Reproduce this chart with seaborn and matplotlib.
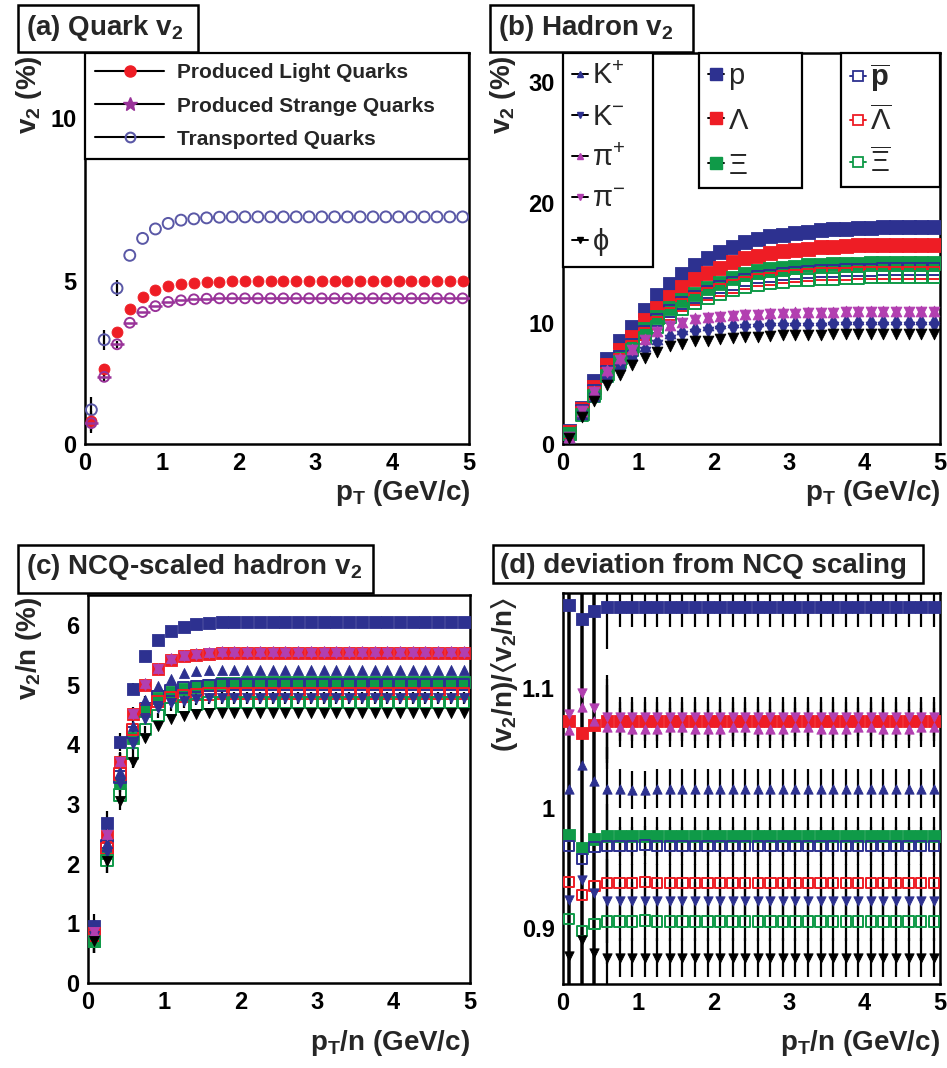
import matplotlib
matplotlib.use("Agg")
import matplotlib.pyplot as plt
from matplotlib.lines import Line2D
from matplotlib.patches import Rectangle
from matplotlib.ticker import MultipleLocator, FuncFormatter
import seaborn as sns

# ---------------- data ----------------
X = [0.083, 0.25, 0.417, 0.583, 0.75, 0.917, 1.083, 1.25, 1.417, 1.583,
     1.75, 1.917, 2.083, 2.25, 2.417, 2.583, 2.75, 2.917, 3.083, 3.25,
     3.417, 3.583, 3.75, 3.917, 4.083, 4.25, 4.417, 4.583, 4.75, 4.917]

# (a) quark v2 (%)
q_light = [0.71, 2.30, 3.44, 4.15, 4.51, 4.72, 4.85, 4.92, 4.95, 4.97,
           4.98, 4.99, 5.00, 5.00, 5.00, 5.00, 5.00, 5.00, 5.00, 5.00,
           5.00, 5.00, 5.00, 5.00, 5.00, 5.00, 5.00, 5.00, 5.00, 5.00]
q_strange = [0.64, 2.06, 3.06, 3.72, 4.05, 4.23, 4.36, 4.41, 4.44, 4.46,
             4.47, 4.47, 4.47, 4.47, 4.47, 4.47, 4.47, 4.47, 4.47, 4.47,
             4.47, 4.47, 4.47, 4.47, 4.47, 4.47, 4.47, 4.47, 4.47, 4.47]
q_transp = [1.05, 3.20, 4.78, 5.79, 6.31, 6.60, 6.77, 6.87, 6.91, 6.94,
            6.96, 6.97, 6.97, 6.97, 6.97, 6.97, 6.97, 6.97, 6.97, 6.97,
            6.97, 6.97, 6.97, 6.97, 6.97, 6.97, 6.97, 6.97, 6.97, 6.97]
e_quark_light = [0.30, 0.15, 0.10, 0.0, 0.0, 0.0, 0.0, 0.0, 0.0, 0.0,
                 0.0, 0.0, 0.0, 0.0, 0.0, 0.0, 0.0, 0.0, 0.0, 0.0,
                 0.0, 0.0, 0.0, 0.0, 0.0, 0.0, 0.0, 0.0, 0.0, 0.0]
e_quark_transp = [0.40, 0.30, 0.25, 0.0, 0.0, 0.0, 0.0, 0.0, 0.0, 0.0,
                  0.0, 0.0, 0.0, 0.0, 0.0, 0.0, 0.0, 0.0, 0.0, 0.0,
                  0.0, 0.0, 0.0, 0.0, 0.0, 0.0, 0.0, 0.0, 0.0, 0.0]

# (b) hadron v2 (%)
v2_p = [1.05, 3.00, 5.20, 7.06, 8.50, 9.70, 11.07, 12.34, 13.28, 14.10,
        14.80, 15.45, 15.93, 16.36, 16.70, 17.00, 17.20, 17.35, 17.50, 17.60,
        17.70, 17.80, 17.85, 17.90, 17.90, 17.95, 18.00, 18.00, 18.00, 18.00]
v2_lam = [1.00, 2.90, 4.70, 6.55, 7.80, 8.87, 10.30, 11.27, 12.20, 13.00,
          13.67, 14.20, 14.60, 15.10, 15.40, 15.60, 15.85, 16.00, 16.10, 16.20,
          16.30, 16.35, 16.40, 16.45, 16.45, 16.50, 16.50, 16.50, 16.50, 16.50]
v2_xi = [0.95, 2.60, 4.30, 5.90, 7.20, 8.20, 9.50, 10.50, 11.30, 11.90,
         12.45, 12.95, 13.35, 13.75, 14.05, 14.30, 14.50, 14.60, 14.70, 14.80,
         14.85, 14.90, 14.95, 14.95, 15.00, 15.00, 15.00, 15.00, 15.00, 15.00]
v2_pbar = [0.95, 2.70, 4.40, 6.00, 7.20, 8.20, 9.30, 10.30, 11.00, 11.70,
           12.20, 12.60, 13.00, 13.30, 13.60, 13.80, 13.95, 14.05, 14.15, 14.25,
           14.30, 14.35, 14.40, 14.45, 14.45, 14.50, 14.50, 14.50, 14.50, 14.50]
v2_lbar = [0.90, 2.60, 4.20, 5.80, 7.00, 8.00, 9.10, 10.00, 10.80, 11.50,
           12.00, 12.40, 12.75, 13.05, 13.35, 13.55, 13.70, 13.80, 13.90, 14.00,
           14.05, 14.10, 14.10, 14.15, 14.20, 14.20, 14.20, 14.20, 14.20, 14.20]
v2_xbar = [0.85, 2.40, 4.00, 5.60, 6.80, 7.80, 8.80, 9.70, 10.50, 11.20,
           11.70, 12.10, 12.45, 12.75, 13.00, 13.20, 13.35, 13.45, 13.55, 13.60,
           13.65, 13.70, 13.75, 13.75, 13.80, 13.80, 13.80, 13.80, 13.80, 13.80]
v2_pip = [0.60, 2.75, 4.40, 6.10, 7.10, 7.90, 8.70, 9.35, 9.85, 10.15,
          10.40, 10.50, 10.60, 10.70, 10.75, 10.80, 10.85, 10.90, 10.90, 10.95,
          10.95, 10.95, 11.00, 11.00, 11.00, 11.00, 11.00, 11.00, 11.00, 11.00]
v2_pim = [0.60, 2.70, 4.35, 6.00, 7.00, 7.80, 8.60, 9.25, 9.75, 10.05,
          10.30, 10.40, 10.50, 10.60, 10.65, 10.70, 10.75, 10.80, 10.80, 10.85,
          10.85, 10.85, 10.90, 10.90, 10.90, 10.90, 10.90, 10.90, 10.90, 10.90]
v2_kp = [0.55, 2.50, 4.00, 5.60, 6.60, 7.40, 8.10, 8.70, 9.20, 9.50,
         9.75, 9.90, 10.00, 10.10, 10.15, 10.20, 10.25, 10.25, 10.30, 10.30,
         10.30, 10.35, 10.35, 10.35, 10.35, 10.35, 10.35, 10.35, 10.35, 10.35]
v2_km = [0.50, 2.35, 3.80, 5.30, 6.25, 7.00, 7.65, 8.20, 8.65, 8.95,
         9.15, 9.30, 9.40, 9.45, 9.50, 9.55, 9.60, 9.60, 9.65, 9.65,
         9.65, 9.70, 9.70, 9.70, 9.70, 9.70, 9.70, 9.70, 9.70, 9.70]
v2_phi = [0.50, 2.20, 3.60, 4.85, 5.70, 6.55, 7.10, 7.60, 8.10, 8.25,
          8.50, 8.55, 8.70, 8.80, 8.85, 8.90, 8.95, 9.00, 9.00, 9.05,
          9.05, 9.10, 9.10, 9.10, 9.10, 9.10, 9.10, 9.10, 9.10, 9.10]

# (c) NCQ-scaled v2/n (%)
n_p = [0.95, 2.68, 4.03, 4.92, 5.47, 5.75, 5.90, 5.97, 6.01, 6.03,
       6.04, 6.04, 6.04, 6.05, 6.05, 6.05, 6.05, 6.05, 6.05, 6.05,
       6.05, 6.05, 6.05, 6.05, 6.05, 6.05, 6.05, 6.05, 6.05, 6.05]
n_lam = [0.84, 2.46, 3.71, 4.51, 5.00, 5.26, 5.41, 5.47, 5.50, 5.51,
         5.52, 5.52, 5.52, 5.52, 5.52, 5.52, 5.52, 5.52, 5.52, 5.52,
         5.52, 5.52, 5.52, 5.52, 5.52, 5.52, 5.52, 5.52, 5.52, 5.52]
n_pip = [0.86, 2.50, 3.72, 4.52, 5.02, 5.28, 5.44, 5.50, 5.53, 5.55,
         5.56, 5.56, 5.56, 5.56, 5.56, 5.56, 5.56, 5.56, 5.56, 5.56,
         5.56, 5.56, 5.56, 5.56, 5.56, 5.56, 5.56, 5.56, 5.56, 5.56]
n_pim = [0.85, 2.48, 3.70, 4.50, 5.00, 5.26, 5.41, 5.47, 5.50, 5.52,
         5.53, 5.53, 5.53, 5.53, 5.53, 5.53, 5.53, 5.53, 5.53, 5.53,
         5.53, 5.53, 5.53, 5.53, 5.53, 5.53, 5.53, 5.53, 5.53, 5.53]
n_kp = [0.85, 2.34, 3.53, 4.30, 4.74, 4.97, 5.10, 5.19, 5.22, 5.24,
        5.25, 5.25, 5.25, 5.25, 5.25, 5.25, 5.25, 5.25, 5.25, 5.25,
        5.25, 5.25, 5.25, 5.25, 5.25, 5.25, 5.25, 5.25, 5.25, 5.25]
n_xi = [0.70, 2.18, 3.35, 4.10, 4.56, 4.77, 4.88, 4.92, 4.96, 5.00,
        5.02, 5.03, 5.04, 5.05, 5.05, 5.05, 5.05, 5.05, 5.05, 5.05,
        5.05, 5.05, 5.05, 5.05, 5.05, 5.05, 5.05, 5.05, 5.05, 5.05]
n_pbar = [0.80, 2.30, 3.45, 4.20, 4.60, 4.80, 4.90, 4.95, 4.97, 4.98,
          4.99, 5.00, 5.00, 5.00, 5.00, 5.00, 5.00, 5.00, 5.00, 5.00,
          5.00, 5.00, 5.00, 5.00, 5.00, 5.00, 5.00, 5.00, 5.00, 5.00]
n_lbar = [0.80, 2.25, 3.50, 4.25, 4.58, 4.71, 4.78, 4.81, 4.83, 4.84,
          4.85, 4.85, 4.85, 4.85, 4.85, 4.85, 4.85, 4.85, 4.85, 4.85,
          4.85, 4.85, 4.85, 4.85, 4.85, 4.85, 4.85, 4.85, 4.85, 4.85]
n_km = [0.78, 2.20, 3.35, 4.00, 4.42, 4.60, 4.69, 4.73, 4.75, 4.77,
        4.78, 4.78, 4.78, 4.78, 4.78, 4.78, 4.78, 4.78, 4.78, 4.78,
        4.78, 4.78, 4.78, 4.78, 4.78, 4.78, 4.78, 4.78, 4.78, 4.78]
n_xbar = [0.70, 2.05, 3.15, 3.85, 4.25, 4.48, 4.59, 4.64, 4.67, 4.69,
          4.70, 4.70, 4.70, 4.70, 4.70, 4.70, 4.70, 4.70, 4.70, 4.70,
          4.70, 4.70, 4.70, 4.70, 4.70, 4.70, 4.70, 4.70, 4.70, 4.70]
n_phi = [0.70, 2.05, 3.05, 3.70, 4.10, 4.30, 4.42, 4.47, 4.50, 4.52,
         4.53, 4.53, 4.53, 4.53, 4.53, 4.53, 4.53, 4.53, 4.53, 4.53,
         4.53, 4.53, 4.53, 4.53, 4.53, 4.53, 4.53, 4.53, 4.53, 4.53]
e_ncq = [0.20, 0.20, 0.15, 0.10, 0.06, 0.04, 0.03, 0.03, 0.02, 0.02,
         0.02, 0.02, 0.02, 0.02, 0.02, 0.02, 0.02, 0.02, 0.02, 0.02,
         0.02, 0.02, 0.02, 0.02, 0.02, 0.02, 0.02, 0.02, 0.02, 0.02]

# (d) deviation (v2/n)/<v2/n>
r_p = [1.169, 1.157, 1.164, 1.167, 1.167, 1.167, 1.167, 1.167, 1.167, 1.167,
       1.167, 1.167, 1.167, 1.167, 1.167, 1.167, 1.167, 1.167, 1.167, 1.167,
       1.167, 1.167, 1.167, 1.167, 1.167, 1.167, 1.167, 1.167, 1.167, 1.167]
r_lam = [1.072, 1.062, 1.069, 1.072, 1.072, 1.072, 1.072, 1.072, 1.072, 1.072,
         1.072, 1.072, 1.072, 1.072, 1.072, 1.072, 1.072, 1.072, 1.072, 1.072,
         1.072, 1.072, 1.072, 1.072, 1.072, 1.072, 1.072, 1.072, 1.072, 1.072]
r_pim = [1.078, 1.096, 1.083, 1.076, 1.076, 1.076, 1.076, 1.076, 1.076, 1.076,
         1.076, 1.076, 1.076, 1.076, 1.076, 1.076, 1.076, 1.076, 1.076, 1.076,
         1.076, 1.076, 1.076, 1.076, 1.076, 1.076, 1.076, 1.076, 1.076, 1.076]
r_pip = [1.065, 1.084, 1.072, 1.067, 1.067, 1.066, 1.066, 1.066, 1.067, 1.067,
         1.066, 1.066, 1.066, 1.067, 1.067, 1.066, 1.066, 1.066, 1.067, 1.067,
         1.066, 1.066, 1.066, 1.067, 1.067, 1.066, 1.066, 1.066, 1.067, 1.067]
r_kp = [1.016, 1.036, 1.022, 1.016, 1.016, 1.015, 1.015, 1.016, 1.016, 1.016,
        1.016, 1.016, 1.016, 1.016, 1.016, 1.016, 1.016, 1.016, 1.016, 1.016,
        1.016, 1.016, 1.016, 1.016, 1.016, 1.016, 1.016, 1.016, 1.016, 1.016]
r_xi = [0.977, 0.966, 0.974, 0.976, 0.976, 0.976, 0.976, 0.976, 0.976, 0.976,
        0.976, 0.976, 0.976, 0.976, 0.976, 0.976, 0.976, 0.976, 0.976, 0.976,
        0.976, 0.976, 0.976, 0.976, 0.976, 0.976, 0.976, 0.976, 0.976, 0.976]
r_pbar = [0.968, 0.957, 0.967, 0.968, 0.968, 0.968, 0.969, 0.968, 0.968, 0.968,
          0.968, 0.968, 0.968, 0.968, 0.968, 0.968, 0.968, 0.968, 0.968, 0.968,
          0.968, 0.968, 0.968, 0.968, 0.968, 0.968, 0.968, 0.968, 0.968, 0.968]
r_lbar = [0.938, 0.927, 0.935, 0.937, 0.937, 0.937, 0.938, 0.937, 0.937, 0.937,
          0.937, 0.937, 0.937, 0.937, 0.937, 0.937, 0.937, 0.937, 0.937, 0.937,
          0.937, 0.937, 0.937, 0.937, 0.937, 0.937, 0.937, 0.937, 0.937, 0.937]
r_km = [0.923, 0.940, 0.929, 0.922, 0.922, 0.922, 0.922, 0.922, 0.922, 0.922,
        0.922, 0.922, 0.922, 0.922, 0.922, 0.922, 0.922, 0.922, 0.922, 0.922,
        0.922, 0.922, 0.922, 0.922, 0.922, 0.922, 0.922, 0.922, 0.922, 0.922]
r_xbar = [0.907, 0.897, 0.903, 0.905, 0.905, 0.905, 0.906, 0.905, 0.905, 0.905,
          0.905, 0.905, 0.905, 0.905, 0.905, 0.905, 0.905, 0.905, 0.905, 0.905,
          0.905, 0.905, 0.905, 0.905, 0.905, 0.905, 0.905, 0.905, 0.905, 0.905]
r_phi = [0.876, 0.890, 0.879, 0.875, 0.875, 0.875, 0.875, 0.875, 0.875, 0.875,
         0.875, 0.875, 0.875, 0.875, 0.875, 0.875, 0.875, 0.875, 0.875, 0.875,
         0.875, 0.875, 0.875, 0.875, 0.875, 0.875, 0.875, 0.875, 0.875, 0.875]
e_dev = [0.5, 0.5, 0.5, 0.035, 0.016, 0.016, 0.016, 0.016, 0.016, 0.016,
         0.016, 0.016, 0.016, 0.016, 0.016, 0.016, 0.016, 0.016, 0.016, 0.016,
         0.016, 0.016, 0.016, 0.016, 0.016, 0.016, 0.016, 0.016, 0.016, 0.016]

quark_labels = ["Produced Light Quarks", "Produced Strange Quarks", "Transported Quarks"]
meson_labels = [r"K$^{+}$", r"K$^{-}$", r"$\pi^{+}$", r"$\pi^{-}$", r"$\phi$"]
baryon_labels = ["p", r"$\Lambda$", r"$\Xi$"]
anti_labels = [r"$\overline{\mathrm{p}}$", r"$\overline{\Lambda}$", r"$\overline{\Xi}$"]

# ---------------- style ----------------
sns.set_theme(style="white")
plt.rcParams["font.family"] = ["Liberation Sans", "DejaVu Sans"]
plt.rcParams["font.weight"] = "bold"
plt.rcParams["mathtext.fontset"] = "custom"
plt.rcParams["mathtext.rm"] = "Liberation Sans"
plt.rcParams["mathtext.it"] = "Liberation Sans:italic"
plt.rcParams["mathtext.bf"] = "Liberation Sans:bold"
plt.rcParams["mathtext.sf"] = "Liberation Sans"
plt.rcParams["mathtext.default"] = "regular"

BLUE = "#2d3190"
RED = "#ee1d25"
GREEN = "#0f9a48"
MAG = "#b23fb0"
PURPLE = "#993399"
LBLUE = "#5a58a6"

W, H = 947, 1068
fig = plt.figure(figsize=(W / 100, H / 100), dpi=100)


def px_axes(left, top, right, bottom):
    return fig.add_axes([left / W, 1 - bottom / H, (right - left) / W, (bottom - top) / H])


def fx(x):
    return x / W


def fy(y):
    return 1 - y / H


def series(ax, y, color, marker, filled=True, s=60, err=None, lw=1.4, z=3):
    if err is not None:
        ax.errorbar(X, y, yerr=err, fmt="none", ecolor="black", elinewidth=1.6,
                    capsize=0, zorder=z - 0.5)
    sns.scatterplot(x=X, y=y, ax=ax, marker=marker, s=s, color=color,
                    facecolors=(color if filled else "none"), edgecolor=color,
                    linewidth=(0.6 if filled else lw), zorder=z, legend=False)


def style_axes(ax, ylim, ymaj, ymin, fmt):
    ax.set_xlim(0, 5)
    ax.set_ylim(*ylim)
    ax.xaxis.set_major_locator(MultipleLocator(1))
    ax.xaxis.set_minor_locator(MultipleLocator(0.2))
    ax.yaxis.set_major_locator(MultipleLocator(ymaj))
    ax.yaxis.set_minor_locator(MultipleLocator(ymin))
    ax.yaxis.set_major_formatter(FuncFormatter(fmt))
    ax.xaxis.set_major_formatter(FuncFormatter(lambda v, p: f"{v:g}"))
    ax.tick_params(which="both", direction="in", top=False, right=False,
                   width=1.5, labelsize=17, colors="black")
    ax.tick_params(which="major", length=9, pad=6)
    ax.tick_params(which="minor", length=5)
    for sp in ax.spines.values():
        sp.set_linewidth(1.8)
        sp.set_color("black")
    ax.set_xlabel("")
    ax.set_ylabel("")


def title_box(x0, y0, x1, y1, text, tx, ty):
    fig.patches.append(Rectangle((fx(x0), fy(y1)), (x1 - x0) / W, (y1 - y0) / H,
                                 transform=fig.transFigure, facecolor="white",
                                 edgecolor="black", linewidth=1.8, zorder=5))
    fig.text(fx(tx), fy(ty), text, fontsize=20, fontweight="bold",
             ha="left", va="baseline", zorder=6)


# ---------------- (a) ----------------
axa = px_axes(85, 53, 469, 444)
series(axa, q_transp, LBLUE, "o", filled=False, s=62, err=e_quark_transp, lw=1.4)
series(axa, q_light, RED, "o", filled=True, s=62, err=e_quark_light)
series(axa, q_strange, PURPLE, "o", filled=False, s=50, err=e_quark_light, lw=1.4)
sns.scatterplot(x=X, y=q_strange, ax=axa, marker="_", s=90, color=PURPLE,
                linewidth=1.8, zorder=4, legend=False)
style_axes(axa, (0, 12), 5, 1, lambda v, p: f"{v:g}")
ha = [Line2D([], [], color="black", lw=1.5, marker="o", ms=8, mfc=RED, mec=RED),
      Line2D([], [], color="black", lw=1.5, marker="*", ms=10, mfc=PURPLE, mec=PURPLE),
      Line2D([], [], color="black", lw=1.5, marker="o", ms=7, mfc="none", mec=LBLUE, mew=1.5)]
lega = axa.legend(ha, quark_labels, loc="upper left", bbox_to_anchor=(0, 0, 1, 1),
                  mode="expand", borderaxespad=0, frameon=True, fancybox=False,
                  edgecolor="black", framealpha=1, prop={"weight": "bold", "size": 15},
                  handlelength=3.3, handletextpad=0.6, labelspacing=0.68, borderpad=0.5)
lega.get_frame().set_linewidth(1.6)

# ---------------- (b) ----------------
axb = px_axes(563, 53, 940, 444)
series(axb, v2_p, BLUE, "s", s=100)
series(axb, v2_lam, RED, "s", s=100)
series(axb, v2_xi, GREEN, "s", s=100)
series(axb, v2_pbar, BLUE, "s", filled=False, s=75)
series(axb, v2_lbar, RED, "s", filled=False, s=75)
series(axb, v2_xbar, GREEN, "s", filled=False, s=75)
series(axb, v2_kp, BLUE, "^", s=60)
series(axb, v2_km, BLUE, "v", s=60)
series(axb, v2_pip, MAG, "^", s=60)
series(axb, v2_pim, MAG, "v", s=60)
series(axb, v2_phi, "black", "v", s=60)
style_axes(axb, (0, 32.4), 10, 2, lambda v, p: f"{v:g}")

leg_kw = dict(loc="upper left", mode="expand", borderaxespad=0, frameon=True,
              fancybox=False, edgecolor="black", framealpha=1,
              prop={"weight": "normal", "size": 21}, handlelength=0.55,
              handletextpad=0.15, borderpad=0.3)
hm = [Line2D([], [], color="black", lw=1.4, marker="^", ms=5, mfc=BLUE, mec=BLUE),
      Line2D([], [], color="black", lw=1.4, marker="v", ms=5, mfc=BLUE, mec=BLUE),
      Line2D([], [], color="black", lw=1.4, marker="^", ms=5, mfc=MAG, mec=MAG),
      Line2D([], [], color="black", lw=1.4, marker="v", ms=5, mfc=MAG, mec=MAG),
      Line2D([], [], color="black", lw=1.4, marker="v", ms=5, mfc="black", mec="black")]
leg1 = axb.legend(hm, meson_labels, bbox_to_anchor=(0, 0, 0.239, 1),
                  labelspacing=0.45, **leg_kw)
leg1.get_frame().set_linewidth(1.6)
axb.add_artist(leg1)
hb = [Line2D([], [], color="black", lw=1.4, marker="s", ms=8, mfc=c, mec=c)
      for c in (BLUE, RED, GREEN)]
leg2 = axb.legend(hb, baryon_labels, bbox_to_anchor=(0.361, 0, 0.273, 1),
                  labelspacing=0.58, **leg_kw)
leg2.get_frame().set_linewidth(1.6)
axb.add_artist(leg2)
han = [Line2D([], [], color=c, lw=1.4, marker="s", ms=7, mfc="white", mec=c, mew=1.3)
       for c in (BLUE, RED, GREEN)]
leg3 = axb.legend(han, anti_labels, bbox_to_anchor=(0.737, 0, 0.263, 1),
                  labelspacing=0.4, **leg_kw)
leg3.get_frame().set_linewidth(1.6)

# ---------------- (c) ----------------
axc = px_axes(88, 595, 470, 983)
series(axc, n_p, BLUE, "s", s=85, err=e_ncq)
series(axc, n_lam, RED, "s", s=85, err=e_ncq)
series(axc, n_xi, GREEN, "s", s=85, err=e_ncq)
series(axc, n_pbar, BLUE, "s", filled=False, s=66, err=e_ncq)
series(axc, n_lbar, RED, "s", filled=False, s=66, err=e_ncq)
series(axc, n_xbar, GREEN, "s", filled=False, s=66, err=e_ncq)
series(axc, n_kp, BLUE, "^", s=52, err=e_ncq)
series(axc, n_km, BLUE, "v", s=52, err=e_ncq)
series(axc, n_pip, MAG, "^", s=52, err=e_ncq)
series(axc, n_pim, MAG, "v", s=52, err=e_ncq)
series(axc, n_phi, "black", "v", s=52, err=e_ncq)
style_axes(axc, (0, 6.5), 1, 0.2, lambda v, p: f"{v:g}")

# ---------------- (d) ----------------
axd = px_axes(563, 593, 940, 984)
series(axd, r_p, BLUE, "s", s=68, err=e_dev)
series(axd, r_lam, RED, "s", s=68, err=e_dev)
series(axd, r_xi, GREEN, "s", s=68, err=e_dev)
series(axd, r_pbar, BLUE, "s", filled=False, s=55, err=e_dev)
series(axd, r_lbar, RED, "s", filled=False, s=55, err=e_dev)
series(axd, r_xbar, GREEN, "s", filled=False, s=55, err=e_dev)
series(axd, r_kp, BLUE, "^", s=45, err=e_dev)
series(axd, r_km, BLUE, "v", s=45, err=e_dev)
series(axd, r_pip, MAG, "^", s=45, err=e_dev)
series(axd, r_pim, MAG, "v", s=45, err=e_dev)
series(axd, r_phi, "black", "v", s=45, err=e_dev)
style_axes(axd, (0.853, 1.179), 0.1, 0.02,
           lambda v, p: "1" if abs(v - 1) < 1e-6 else f"{v:.1f}")

# ---------------- titles & axis labels ----------------
title_box(18, 5, 198, 52, r"(a) Quark v$_{\mathbf{2}}$", 26, 35)
title_box(490, 5, 693, 52, r"(b) Hadron v$_{\mathbf{2}}$", 498, 35)
title_box(18, 545, 373, 593, r"(c) NCQ-scaled hadron v$_{\mathbf{2}}$", 26, 574)
title_box(493, 545, 923, 583, "(d) deviation from NCQ scaling", 500, 573)

lab = dict(fontsize=20, fontweight="bold", rotation=90, ha="center", va="top")
fig.text(fx(29), fy(55), r"v$_{\mathbf{2}}$ (%)", **lab)
fig.text(fx(503), fy(55), r"v$_{\mathbf{2}}$ (%)", **lab)
fig.text(fx(29), fy(597), r"v$_{\mathbf{2}}$/n (%)", **lab)
fig.text(fx(505), fy(597), r"(v$_{\mathbf{2}}$/n)/$\langle$v$_{\mathbf{2}}$/n$\rangle$", **lab)

xl = dict(fontsize=20, fontweight="bold", ha="right", va="baseline")
fig.text(fx(470), fy(500), r"p$_{\mathbf{T}}$ (GeV/c)", **xl)
fig.text(fx(940), fy(500), r"p$_{\mathbf{T}}$ (GeV/c)", **xl)
fig.text(fx(470), fy(1050), r"p$_{\mathbf{T}}$/n (GeV/c)", **xl)
fig.text(fx(940), fy(1050), r"p$_{\mathbf{T}}$/n (GeV/c)", **xl)

fig.savefig("out.png", dpi=100, facecolor="white")
